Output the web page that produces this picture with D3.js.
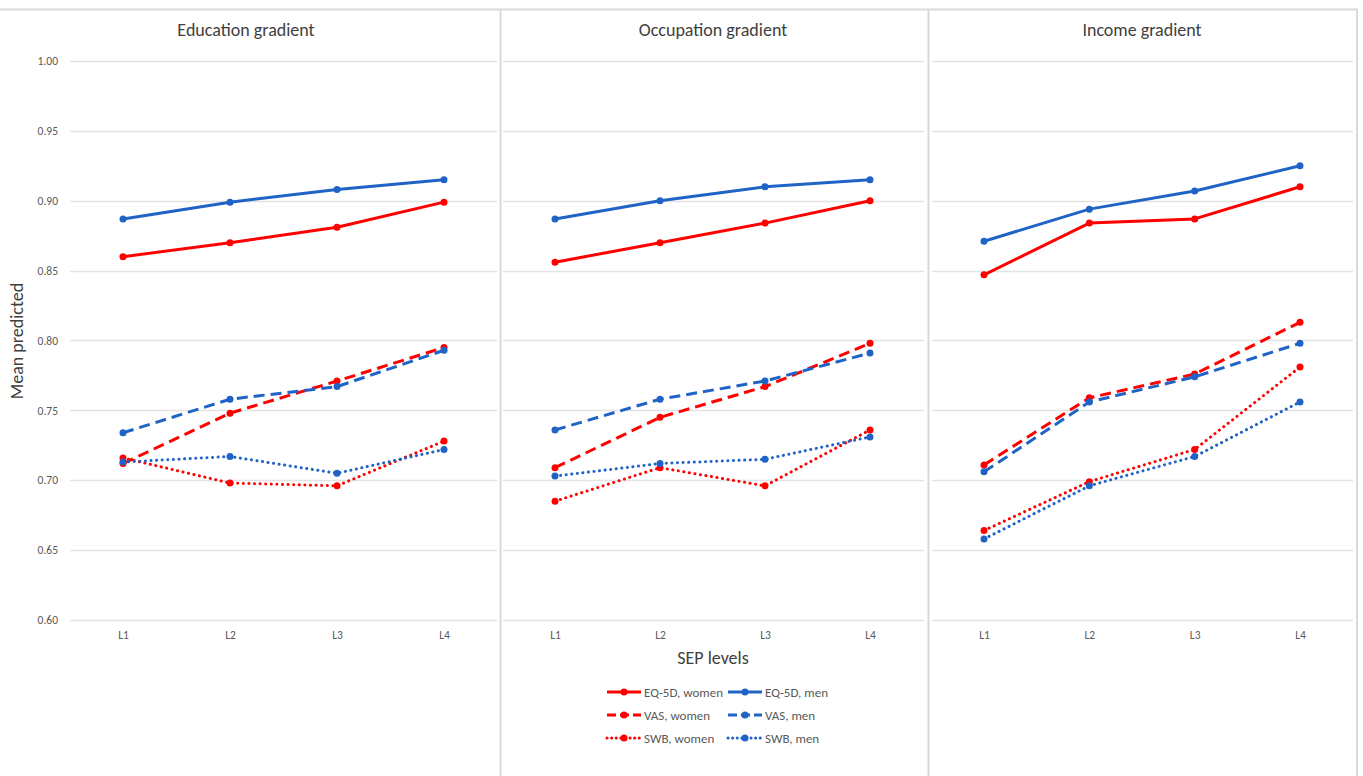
<!DOCTYPE html>
<html>
<head>
<meta charset="utf-8">
<script src="https://cdn.jsdelivr.net/npm/d3@7"></script>
<style>
  body { margin: 0; background: #fff; }
  svg { display: block; font-family: Calibri, Carlito, "Open Sans", "Noto Sans", sans-serif; }
</style>
</head>
<body>
<svg id="chart" width="1363" height="776"></svg>
<script>
'use strict';

// data
var levels = ["L1", "L2", "L3", "L4"];
var yTicks = [0.60, 0.65, 0.70, 0.75, 0.80, 0.85, 0.90, 0.95, 1.00];
var panelTitles = ["Education gradient", "Occupation gradient", "Income gradient"];

var eqWomen  = [[0.860, 0.870, 0.881, 0.899], [0.856, 0.870, 0.884, 0.900], [0.847, 0.884, 0.887, 0.910]];
var eqMen    = [[0.887, 0.899, 0.908, 0.915], [0.887, 0.900, 0.910, 0.915], [0.871, 0.894, 0.907, 0.925]];
var vasWomen = [[0.712, 0.748, 0.771, 0.795], [0.709, 0.745, 0.767, 0.798], [0.711, 0.759, 0.776, 0.813]];
var vasMen   = [[0.734, 0.758, 0.767, 0.793], [0.736, 0.758, 0.771, 0.791], [0.706, 0.756, 0.774, 0.798]];
var swbWomen = [[0.716, 0.698, 0.696, 0.728], [0.685, 0.709, 0.696, 0.736], [0.664, 0.699, 0.722, 0.781]];
var swbMen   = [[0.713, 0.717, 0.705, 0.722], [0.703, 0.712, 0.715, 0.731], [0.658, 0.696, 0.717, 0.756]];

var red = "#ff0000", blue = "#1f63c6";
var DOT = "0.1,5.5";

var series = [
  { name: "EQ-5D, women", values: eqWomen,  color: red,  dash: null },
  { name: "EQ-5D, men",   values: eqMen,    color: blue, dash: null },
  { name: "VAS, women",   values: vasWomen, color: red,  dash: "11,6" },
  { name: "VAS, men",     values: vasMen,   color: blue, dash: "11,6" },
  { name: "SWB, women",   values: swbWomen, color: red,  dash: DOT },
  { name: "SWB, men",     values: swbMen,   color: blue, dash: DOT }
];

var svg = d3.select("#chart");
var plotTop = 61, plotBottom = 620;

var y = d3.scaleLinear().domain([0.60, 1.00]).range([plotBottom, plotTop]);

// panel frames
var frame = "#d9d9d9";
svg.append("line").attr("x1", 0).attr("x2", 1358).attr("y1", 9.5).attr("y2", 9.5)
  .attr("stroke", frame).attr("stroke-width", 2);
[500.5, 928.5, 1357].forEach(function (xx) {
  svg.append("line").attr("x1", xx).attr("x2", xx).attr("y1", 9).attr("y2", 776)
    .attr("stroke", frame).attr("stroke-width", 2);
});

var panels = [
  { x0: 70,  x1: 497,  first: 123, last: 444,  title: 246 },
  { x0: 503, x1: 924,  first: 555, last: 870,  title: 713 },
  { x0: 932, x1: 1353, first: 984, last: 1300, title: 1142 }
];

panels.forEach(function (p, i) {
  var g = svg.append("g");

  var x = d3.scalePoint().domain(levels).range([p.first, p.last]);

  // gridlines
  g.selectAll(".grid").data(yTicks).enter().append("line")
    .attr("x1", p.x0).attr("x2", p.x1)
    .attr("y1", function (d) { return Math.round(y(d)) + 0.5; })
    .attr("y2", function (d) { return Math.round(y(d)) + 0.5; })
    .attr("stroke", "#e3e3e3").attr("stroke-width", 1.5);

  // y tick labels only on the first panel
  if (i === 0) {
    var ay = g.append("g").attr("transform", "translate(61,0)")
      .call(d3.axisLeft(y).tickValues(yTicks).tickFormat(d3.format(".2f")).tickSize(0));
    ay.select(".domain").remove();
    ay.selectAll("text").attr("fill", "#595959").style("font-size", "11.5px")
      .attr("font-family", "Calibri, Carlito, 'Open Sans', sans-serif");
  }

  // x axis labels
  var ax = g.append("g").attr("transform", "translate(0," + (plotBottom + 8) + ")")
    .call(d3.axisBottom(x).tickSize(0));
  ax.select(".domain").remove();
  ax.selectAll("text").attr("fill", "#595959").style("font-size", "11.5px")
    .attr("font-family", "Calibri, Carlito, 'Open Sans', sans-serif");

  // title
  g.append("text").attr("x", p.title).attr("y", 36)
    .attr("text-anchor", "middle").attr("fill", "#404040")
    .style("font-size", "18px").text(panelTitles[i]);

  var line = d3.line()
    .x(function (d, k) { return x(levels[k]); })
    .y(function (d) { return y(d); });

  series.forEach(function (s) {
    var vals = s.values[i];
    g.append("path").datum(vals)
      .attr("d", line)
      .attr("fill", "none")
      .attr("stroke", s.color)
      .attr("stroke-width", 3)
      .attr("stroke-linecap", s.dash === DOT ? "round" : "butt")
      .attr("stroke-linejoin", "round")
      .attr("stroke-dasharray", s.dash);
    g.selectAll(null).data(vals).enter().append("circle")
      .attr("cx", function (d, k) { return x(levels[k]); })
      .attr("cy", function (d) { return y(d); })
      .attr("r", 3.5)
      .attr("fill", s.color);
  });
});

// axis titles
svg.append("text")
  .attr("transform", "translate(23,341) rotate(-90)")
  .attr("text-anchor", "middle").attr("fill", "#404040")
  .style("font-size", "18px").text("Mean predicted");

svg.append("text").attr("x", 713).attr("y", 664)
  .attr("text-anchor", "middle").attr("fill", "#404040")
  .style("font-size", "18px").text("SEP levels");

// legend
var legend = svg.append("g");
series.forEach(function (s, k) {
  var col = k % 2, row = Math.floor(k / 2);
  var lx = col === 0 ? 607 : 728, ly = 692 + row * 23;
  var item = legend.append("g").attr("transform", "translate(" + lx + "," + ly + ")");
  item.append("line").attr("x1", 0).attr("x2", 34).attr("y1", 0).attr("y2", 0)
    .attr("stroke", s.color).attr("stroke-width", 3)
    .attr("stroke-linecap", s.dash === DOT ? "round" : "butt")
    .attr("stroke-dasharray", s.dash === null ? null : (s.dash === DOT ? "0.1,4.5" : "9,4"));
  item.append("circle").attr("cx", 17).attr("cy", 0).attr("r", 3.5).attr("fill", s.color);
  item.append("text").attr("x", 37).attr("y", 4.5)
    .attr("fill", "#595959").style("font-size", "13px").text(s.name);
});
</script>
</body>
</html>
